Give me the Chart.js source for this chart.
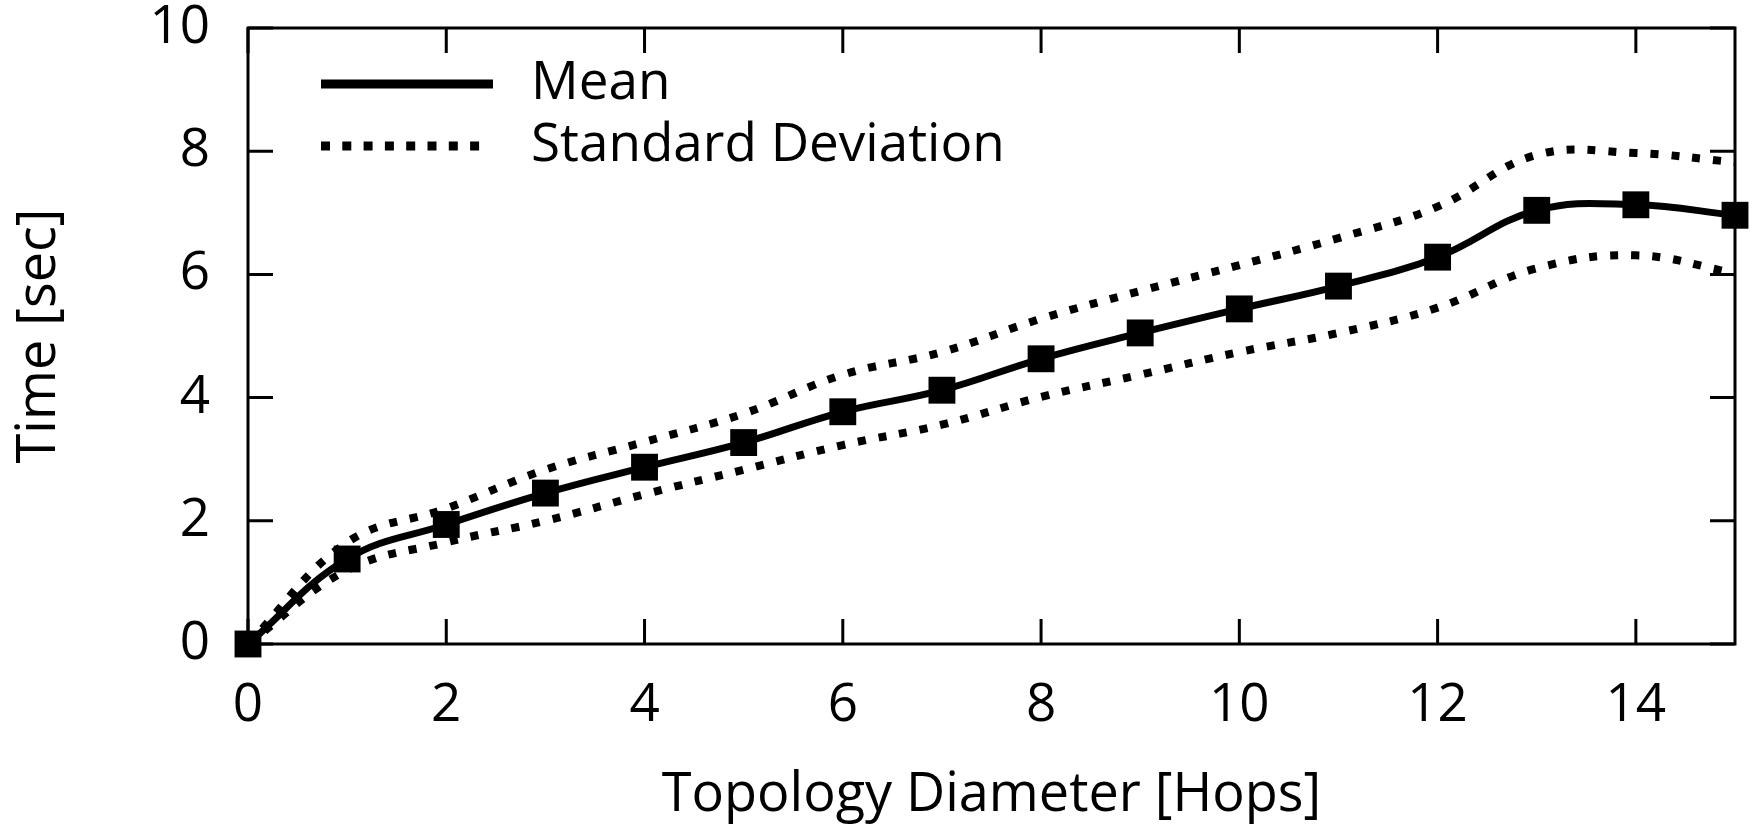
<!DOCTYPE html>
<html>
<head>
<meta charset="utf-8">
<script src="https://cdn.jsdelivr.net/npm/chart.js@4/dist/chart.umd.min.js"></script>
<style>
  html, body { margin: 0; padding: 0; background: #fff; }
  #wrap { width: 1754px; height: 828px; }
</style>
</head>
<body>
<div id="wrap"><canvas id="myChart" width="1754" height="828"></canvas></div>
<script>
const hops = [0, 1, 2, 3, 4, 5, 6, 7, 8, 9, 10, 11, 12, 13, 14, 15];

const meanTime = [0, 1.38, 1.94, 2.45, 2.87, 3.27, 3.77, 4.12, 4.63, 5.05, 5.44, 5.81, 6.28, 7.04, 7.13, 6.96];

const stdUpper = [0, 1.65, 2.2, 2.83, 3.28, 3.74, 4.37, 4.74, 5.28, 5.73, 6.15, 6.59, 7.1, 7.94, 7.97, 7.82];

const stdLower = [0, 1.2, 1.65, 2.0, 2.43, 2.83, 3.23, 3.56, 4.01, 4.37, 4.74, 5.05, 5.46, 6.1, 6.31, 6.02];

const xTitle = "Topology Diameter [Hops]";
const yTitle = "Time [sec]";
const legendLabels = ["Mean", "Standard Deviation"];

const FONT = "'Open Sans', 'Noto Sans', sans-serif";

function toPoints(values) {
  return hops.map((h, i) => ({ x: h, y: values[i] }));
}

// box around the plot with inward tick marks on all four sides, plus the legend
const frameTicks = {
  id: "frameTicks",
  beforeDatasetsDraw(chart) {
    const { ctx, chartArea: a, scales } = chart;
    ctx.save();
    ctx.strokeStyle = "#000";
    ctx.lineWidth = 3;
    ctx.strokeRect(a.left, a.top, a.right - a.left, a.bottom - a.top);
    const len = 25;
    ctx.beginPath();
    scales.x.ticks.forEach((t) => {
      const px = scales.x.getPixelForValue(t.value);
      ctx.moveTo(px, a.bottom);
      ctx.lineTo(px, a.bottom - len);
      ctx.moveTo(px, a.top);
      ctx.lineTo(px, a.top + len);
    });
    scales.y.ticks.forEach((t) => {
      const py = scales.y.getPixelForValue(t.value);
      ctx.moveTo(a.left, py);
      ctx.lineTo(a.left + len, py);
      ctx.moveTo(a.right, py);
      ctx.lineTo(a.right - len, py);
    });
    ctx.stroke();
    ctx.restore();
  },
  afterDatasetsDraw(chart) {
    const { ctx, chartArea: a } = chart;
    ctx.save();
    const x1 = a.left + 73;
    const x2 = a.left + 245;
    const rows = [a.top + 56, a.top + 118];
    ctx.strokeStyle = "#000";
    ctx.lineWidth = 9;
    ctx.lineCap = "butt";
    ctx.beginPath();
    ctx.moveTo(x1, rows[0]);
    ctx.lineTo(x2, rows[0]);
    ctx.stroke();
    ctx.setLineDash([9, 12.3]);
    ctx.beginPath();
    ctx.moveTo(x1, rows[1]);
    ctx.lineTo(x1 + 160, rows[1]);
    ctx.stroke();
    ctx.setLineDash([]);
    ctx.fillStyle = "#000";
    ctx.font = "53px " + FONT;
    ctx.textBaseline = "middle";
    ctx.fillText(legendLabels[0], a.left + 283, rows[0]);
    ctx.fillText(legendLabels[1], a.left + 283, rows[1]);
    ctx.restore();
  },
};

const dotted = {
  borderColor: "#000",
  borderWidth: 8,
  borderDash: [8, 13],
  pointRadius: 0,
  tension: 0.4,
  fill: false,
  clip: false,
};

new Chart(document.getElementById("myChart"), {
  type: "line",
  data: {
    datasets: [
      Object.assign({ label: "Standard Deviation", data: toPoints(stdUpper) }, dotted),
      Object.assign({ label: "Standard Deviation (low)", data: toPoints(stdLower) }, dotted),
      {
        label: "Mean",
        data: toPoints(meanTime),
        borderColor: "#000",
        backgroundColor: "#000",
        borderWidth: 7,
        pointStyle: "rect",
        pointRadius: 19,
        pointBorderWidth: 0,
        pointBackgroundColor: "#000",
        tension: 0.4,
        clip: false,
      },
    ],
  },
  options: {
    responsive: false,
    animation: false,
    layout: { padding: { top: 28, right: 18, left: 0, bottom: 0 } },
    plugins: {
      legend: { display: false },
      tooltip: { enabled: false },
    },
    scales: {
      x: {
        type: "linear",
        min: 0,
        max: 15,
        grid: { display: false, drawTicks: false },
        border: { display: false },
        ticks: {
          stepSize: 2,
          includeBounds: false,
          padding: 30,
          color: "#000",
          font: { family: FONT, size: 53 },
        },
        title: {
          display: true,
          text: xTitle,
          color: "#000",
          padding: 0,
          font: { family: FONT, size: 54 },
        },
        afterFit(scale) {
          scale.height = 184;
          scale.paddingLeft = 0;
          scale.paddingRight = 0;
        },
      },
      y: {
        type: "linear",
        min: 0,
        max: 10,
        grid: { display: false, drawTicks: false },
        border: { display: false },
        ticks: {
          stepSize: 2,
          padding: 38,
          color: "#000",
          font: { family: FONT, size: 53 },
        },
        title: {
          display: true,
          text: yTitle,
          color: "#000",
          padding: 7,
          font: { family: FONT, size: 54 },
        },
        afterFit(scale) {
          scale.width = 248;
          scale.paddingTop = 0;
          scale.paddingBottom = 0;
        },
      },
    },
  },
  plugins: [frameTicks],
});
</script>
</body>
</html>
